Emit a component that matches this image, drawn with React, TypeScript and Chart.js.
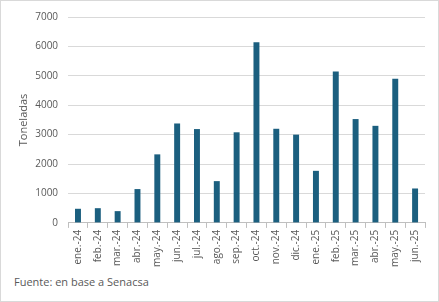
import React, { useEffect, useRef } from "react";
import { Chart, registerables } from "chart.js";

Chart.register(...registerables);

const categories = [
  "ene.-24", "feb.-24", "mar.-24", "abr.-24", "may.-24", "jun.-24",
  "jul.-24", "ago.-24", "sep.-24", "oct.-24", "nov.-24", "dic.-24",
  "ene.-25", "feb.-25", "mar.-25", "abr.-25", "may.-25", "jun.-25",
];
const toneladas = [
  480, 500, 400, 1150, 2330, 3380,
  3190, 1420, 3080, 6140, 3200, 3000,
  1770, 5150, 3530, 3300, 4900, 1170,
];
const yTitle = "Toneladas";
const sourceNote = "Fuente: en base a Senacsa";

const FONT = "'Open Sans', 'Liberation Sans', sans-serif";
const TEXT = "#595959";

export default function App() {
  const ref = useRef<HTMLCanvasElement | null>(null);

  useEffect(() => {
    if (!ref.current) return;
    const chart = new Chart(ref.current, {
      type: "bar",
      data: {
        labels: categories,
        datasets: [
          {
            data: toneladas,
            backgroundColor: "#1b5f7f",
            barPercentage: 0.6,
            categoryPercentage: 0.5,
          },
        ],
      },
      options: {
        animation: false,
        responsive: false,
        maintainAspectRatio: false,
        layout: { padding: { left: 16, right: 13, top: 8, bottom: 0 } },
        plugins: {
          legend: { display: false },
          tooltip: { enabled: false },
        },
        scales: {
          x: {
            grid: {
              display: true,
              drawOnChartArea: false,
              drawTicks: true,
              tickLength: 5,
              offset: true,
              color: "#bfbfbf",
            },
            border: { color: "#bfbfbf" },
            ticks: {
              color: TEXT,
              font: { family: FONT, size: 10 },
              maxRotation: 90,
              minRotation: 90,
              autoSkip: false,
              padding: 2,
            },
          },
          y: {
            min: 0,
            max: 7000,
            ticks: {
              stepSize: 1000,
              color: TEXT,
              font: { family: FONT, size: 10 },
              padding: 10,
              callback: (v: any) => String(v),
            },
            grid: { color: "#d9d9d9", drawTicks: false },
            border: { display: false },
            title: {
              display: true,
              text: yTitle,
              color: TEXT,
              font: { family: FONT, size: 11 },
              padding: { top: 0, bottom: -5 },
            },
          },
        },
      },
    });
    return () => chart.destroy();
  }, []);

  return (
    <div
      style={{
        position: "absolute",
        left: 0,
        top: 0,
        width: 439,
        height: 302,
        boxSizing: "border-box",
        border: "1px solid #d9d9d9",
        background: "#fff",
        overflow: "hidden",
      }}
    >
      <canvas
        ref={ref}
        width={437}
        height={268}
        style={{ position: "absolute", left: 0, top: 0 }}
      />
      <div
        style={{
          position: "absolute",
          left: 13,
          top: 273,
          fontFamily: FONT,
          fontSize: 11,
          color: TEXT,
          whiteSpace: "nowrap",
        }}
      >
        {sourceNote}
      </div>
    </div>
  );
}
